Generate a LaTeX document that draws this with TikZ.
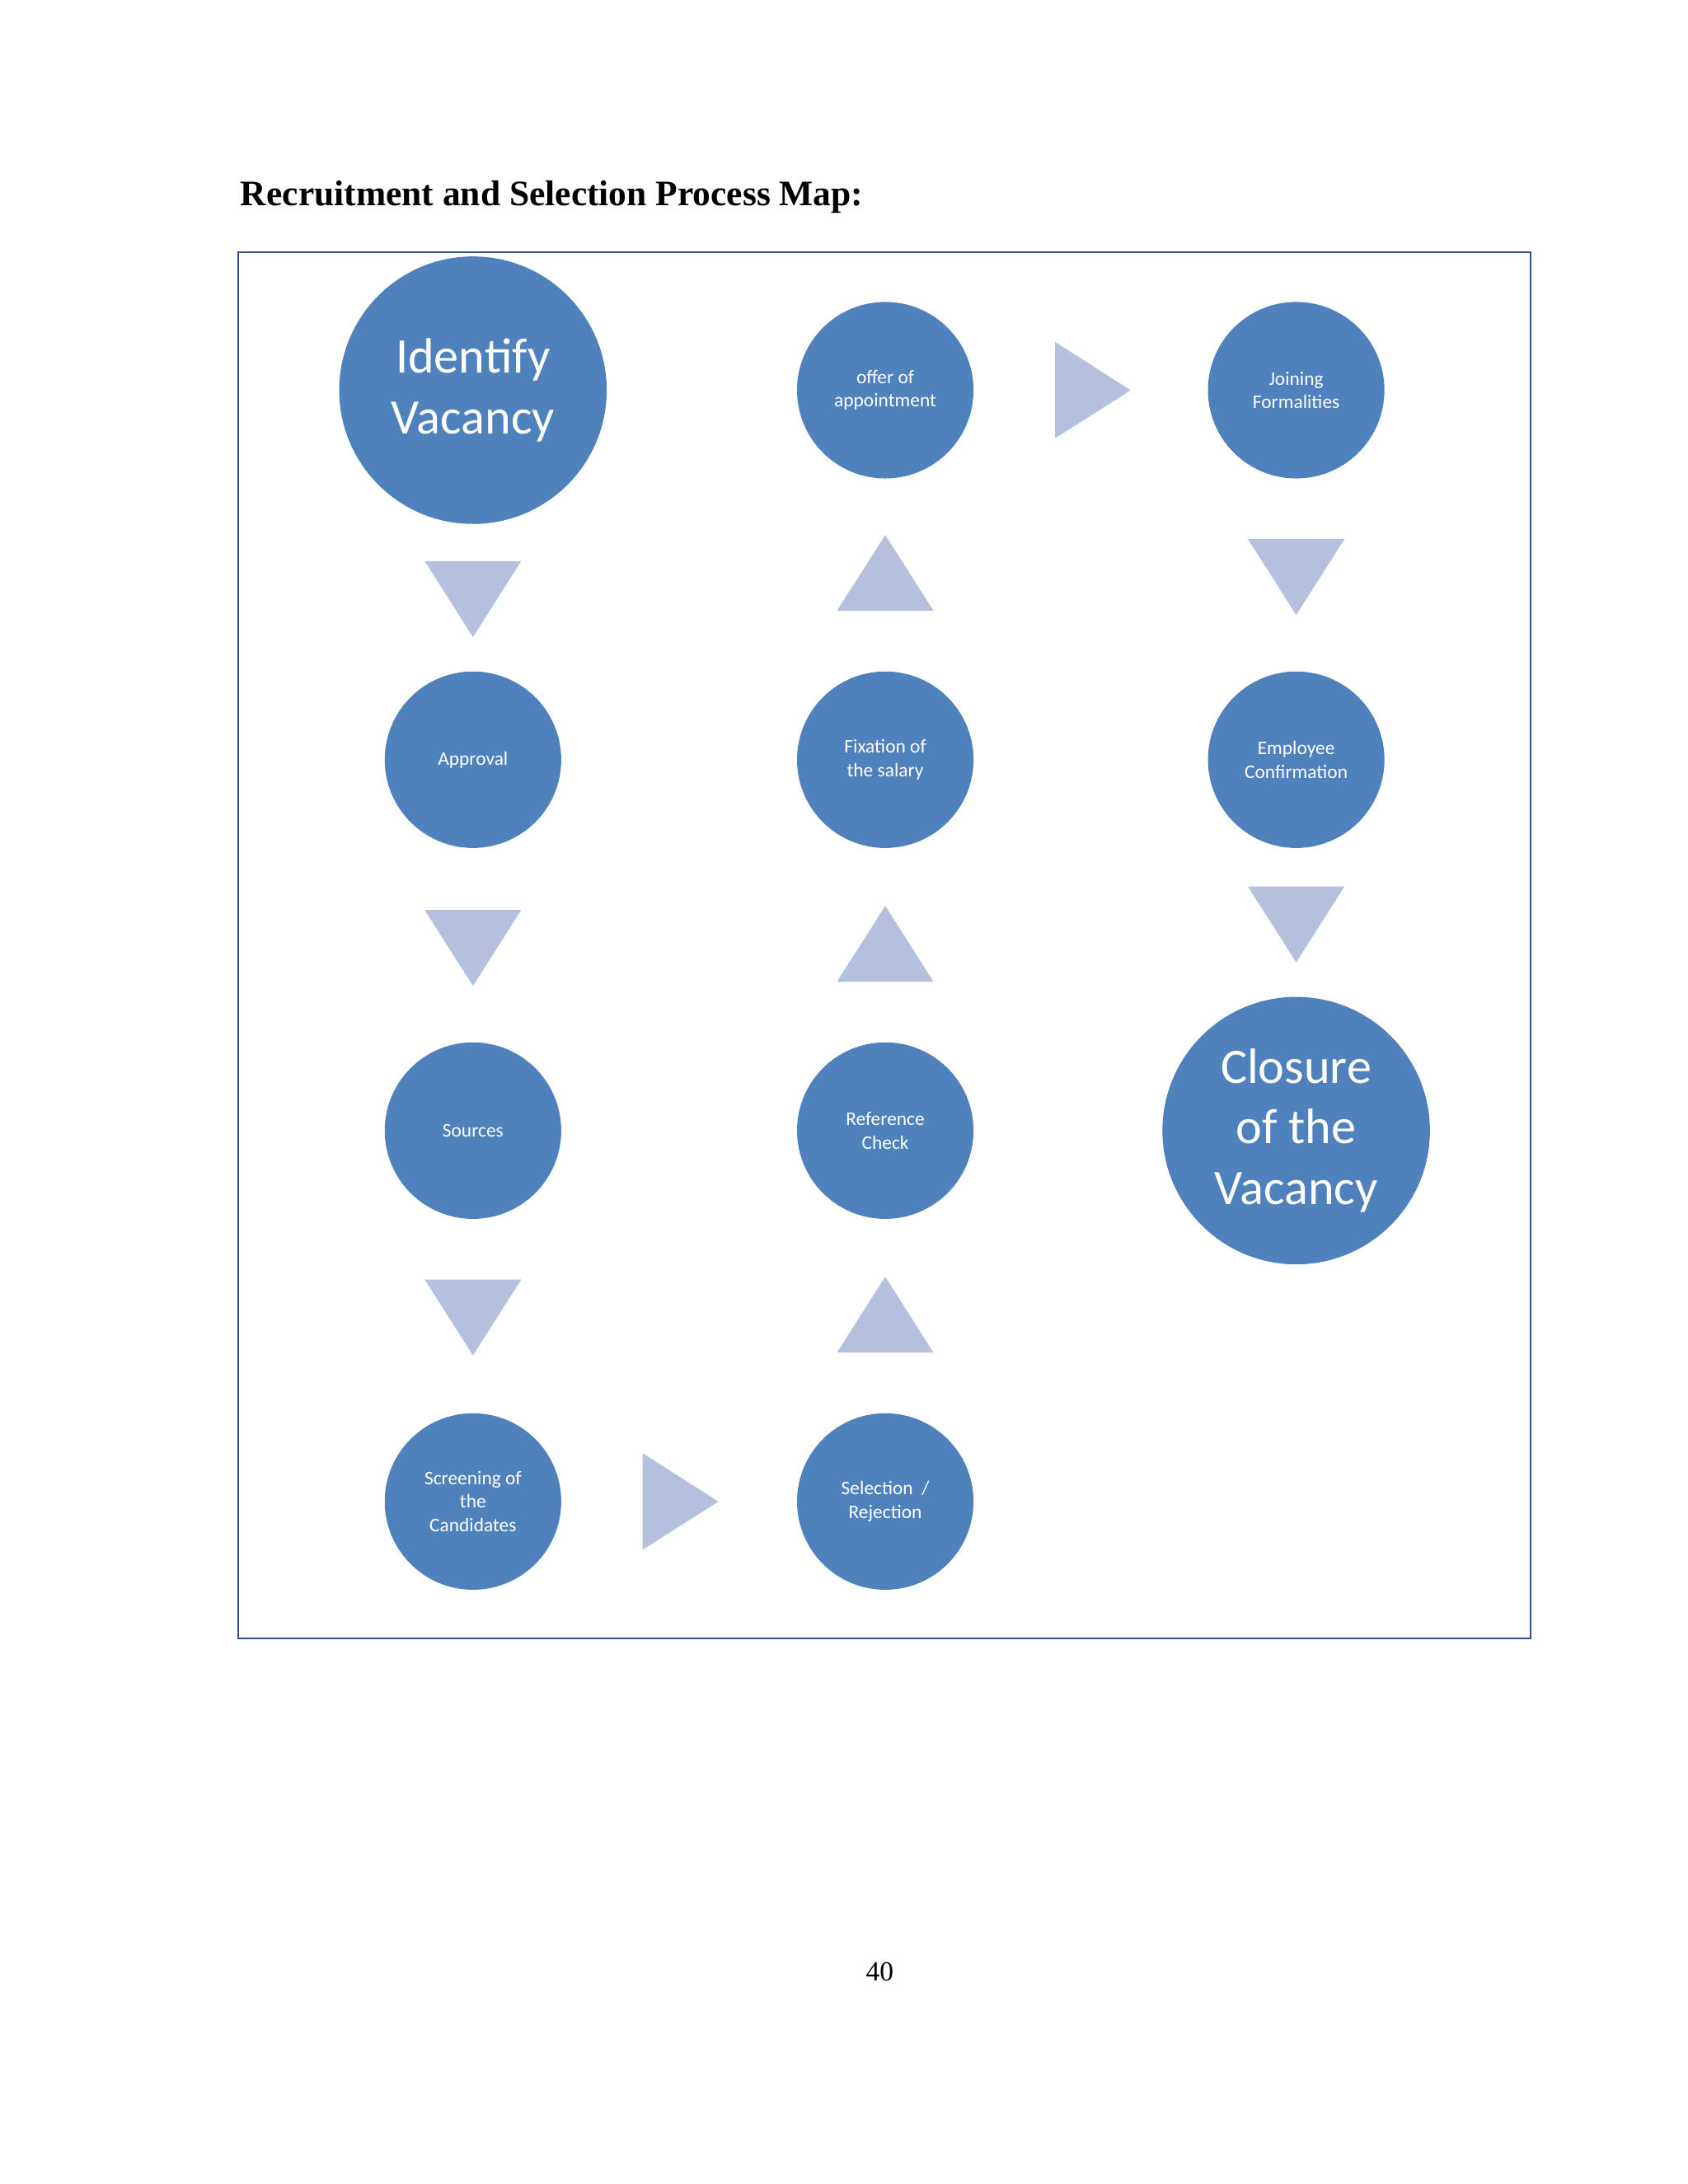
\documentclass[tikz,border=0pt]{standalone}
\usepackage{fontspec}
\setmainfont{Liberation Serif}
\newfontfamily\calfont{Carlito}
\begin{document}
\begin{tikzpicture}[x=1pt,y=-1pt,
  circ/.style={circle,fill=cblue,text=white,font=\calfont\fontsize{14}{17}\selectfont,align=center,inner sep=0pt,minimum size=128pt},
  bigcirc/.style={circ,minimum size=194pt,font=\calfont\fontsize{36}{44}\selectfont},
  tri/.style={fill=ctri}]
\definecolor{cblue}{HTML}{4F81BD}
\definecolor{ctri}{HTML}{B4C0DD}
\definecolor{cframe}{HTML}{2F528F}
\useasboundingbox (0,0) rectangle (1224,1584);
\node[anchor=base west,font=\bfseries\fontsize{26}{30}\selectfont] (title) at (171,149) {Recruitment and Selection Process Map:};
\draw[cframe,line width=1.2pt] (173,183) rectangle (1110,1188);
\node[bigcirc] (iv) at (343,283) {Identify\\Vacancy};
\node[circ] (ap) at (343,551) {Approval};
\node[circ] (so) at (343,820) {Sources};
\node[circ] (sc) at (343,1089) {Screening of\\the\\Candidates};
\node[circ] (sr) at (642,1089) {Selection~ /\\Rejection};
\node[circ] (rc) at (642,820) {Reference\\Check};
\node[circ] (fs) at (642,551) {Fixation of\\the salary};
\node[circ] (oa) at (642,283) {offer of\\appointment};
\node[circ] (jf) at (940,283) {Joining\\Formalities};
\node[circ] (ec) at (940,551) {Employee\\Confirmation};
\node[bigcirc] (cv) at (940,820) {Closure\\of the\\Vacancy};
\foreach \x/\y in {343/407,343/660,343/928,940/391,940/643}
  \fill[tri] (\x-35,\y) -- (\x+35,\y) -- (\x,\y+55) -- cycle;
\foreach \y in {388,657,926}
  \fill[tri] (607,\y+55) -- (677,\y+55) -- (642,\y) -- cycle;
\fill[tri] (765,248) -- (765,318) -- (820,283) -- cycle;
\fill[tri] (466,1054) -- (466,1124) -- (521,1089) -- cycle;
\node[font=\fontsize{20}{24}\selectfont] (pg) at (638,1430) {40};
\end{tikzpicture}
\end{document}
